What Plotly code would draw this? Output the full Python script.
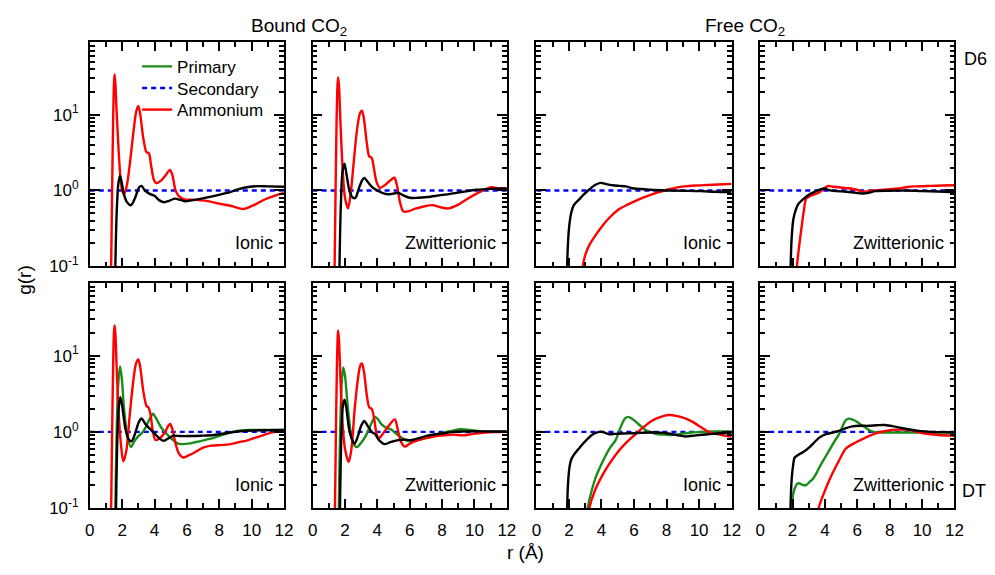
import math
import plotly.graph_objects as go

# ---------------- data (r in Angstrom, g(r)) ----------------
SECONDARY_R = [0, 12]
SECONDARY_G = [1, 1]

# Top row: D6
D6_BOUND_IONIC_AMMONIUM = [(1.25,0.01),(1.32,0.1),(1.38,1.0),(1.44,8),(1.49,25),(1.53,34),(1.58,26),(1.65,12),(1.75,4.5),(1.88,1.6),(2.0,1.0),(2.12,0.89),(2.3,1.2),(2.5,2.5),(2.7,6),(2.87,11),(3.0,13),(3.12,10),(3.3,5),(3.5,3.2),(3.65,3.1),(3.78,2.2),(3.95,1.4),(4.1,1.25),(4.4,1.35),(4.7,1.6),(4.95,1.87),(5.1,1.6),(5.3,1.0),(5.5,0.84),(5.8,0.77),(6.5,0.75),(7.2,0.73),(8.0,0.67),(8.8,0.62),(9.5,0.57),(10.2,0.65),(10.8,0.76),(11.4,0.85),(12,0.93)]
D6_BOUND_IONIC_TOTAL = [(1.52,0.01),(1.58,0.1),(1.66,0.5),(1.76,1.2),(1.86,1.55),(1.95,1.35),(2.1,0.9),(2.3,0.7),(2.55,0.64),(2.8,0.8),(3.05,1.1),(3.2,1.15),(3.4,1.0),(3.7,0.9),(4.0,0.85),(4.3,0.74),(4.6,0.7),(4.9,0.73),(5.25,0.78),(5.6,0.75),(5.9,0.72),(6.3,0.74),(6.9,0.78),(7.5,0.83),(8.1,0.89),(8.7,0.96),(9.2,1.04),(9.8,1.11),(10.4,1.14),(11.0,1.13),(12,1.12)]

D6_BOUND_ZWIT_AMMONIUM = [(1.3,0.01),(1.36,0.1),(1.42,1.0),(1.48,8),(1.54,25),(1.58,31),(1.63,24),(1.72,8),(1.85,2.0),(2.0,0.8),(2.19,0.58),(2.35,0.9),(2.55,2.5),(2.75,6.5),(2.93,10.5),(3.05,11.3),(3.18,8.5),(3.35,4.2),(3.5,2.8),(3.65,2.7),(3.78,2.0),(3.95,1.3),(4.16,1.08),(4.4,1.15),(4.7,1.3),(5.05,1.47),(5.2,1.2),(5.4,0.7),(5.6,0.53),(5.9,0.53),(6.3,0.57),(6.8,0.61),(7.4,0.64),(7.9,0.6),(8.4,0.58),(9.0,0.65),(9.5,0.76),(10.1,0.9),(10.6,1.02),(11.05,1.1),(11.5,1.07),(12,1.06)]
D6_BOUND_ZWIT_TOTAL = [(1.6,0.01),(1.66,0.1),(1.74,0.6),(1.85,1.8),(1.97,2.25),(2.1,1.6),(2.3,0.95),(2.5,0.8),(2.65,0.8),(2.85,1.05),(3.05,1.35),(3.2,1.46),(3.4,1.3),(3.7,1.1),(4.0,1.0),(4.3,0.93),(4.65,0.89),(5.0,0.91),(5.3,0.93),(5.6,0.86),(6.0,0.8),(6.5,0.8),(7.1,0.82),(7.8,0.86),(8.5,0.9),(9.3,0.96),(10.1,1.02),(11.0,1.05),(12,1.06)]

D6_FREE_IONIC_AMMONIUM = [(2.75,0.05),(2.85,0.1),(3.0,0.14),(3.25,0.19),(3.6,0.25),(4.05,0.34),(4.5,0.44),(5.05,0.56),(5.6,0.65),(6.1,0.73),(6.6,0.81),(7.1,0.89),(7.6,0.96),(8.1,1.03),(8.6,1.09),(9.1,1.13),(9.8,1.16),(10.5,1.18),(11.2,1.2),(12,1.22)]
D6_FREE_IONIC_TOTAL = [(1.84,0.01),(1.89,0.1),(1.95,0.22),(2.03,0.36),(2.15,0.52),(2.3,0.64),(2.6,0.75),(2.9,0.88),(3.25,1.03),(3.6,1.18),(3.95,1.26),(4.3,1.21),(4.7,1.17),(5.1,1.15),(5.5,1.13),(5.9,1.07),(6.3,1.05),(7.0,1.02),(8.1,1.0),(9.0,0.99),(10.1,0.98),(11.0,0.96),(12,0.95)]

D6_FREE_ZWIT_AMMONIUM = [(2.2,0.03),(2.27,0.1),(2.4,0.18),(2.54,0.31),(2.7,0.55),(2.84,0.78),(3.1,0.85),(3.55,0.92),(3.85,1.02),(4.16,1.14),(4.5,1.12),(4.87,1.1),(5.4,1.07),(5.9,1.03),(6.2,0.98),(6.5,0.96),(6.8,0.99),(7.1,1.0),(7.8,1.03),(8.5,1.06),(9.0,1.1),(9.5,1.13),(10.5,1.15),(11.3,1.16),(12,1.17)]
D6_FREE_ZWIT_TOTAL = [(1.84,0.01),(1.88,0.1),(1.95,0.25),(2.05,0.42),(2.2,0.56),(2.35,0.66),(2.7,0.78),(3.05,0.89),(3.5,0.99),(3.95,1.06),(4.3,1.0),(4.7,0.98),(5.3,0.96),(5.9,0.93),(6.3,0.91),(6.7,0.93),(7.1,0.98),(8.0,0.99),(9.1,1.0),(10.0,0.98),(11.0,0.97),(12,0.95)]

# Bottom row: DT
DT_BOUND_IONIC_AMMONIUM = [(1.25,0.01),(1.32,0.1),(1.38,1.0),(1.44,7),(1.49,20),(1.53,25),(1.58,20),(1.66,7),(1.78,1.8),(1.92,0.7),(2.07,0.41),(2.25,0.55),(2.45,1.5),(2.65,4),(2.85,7.8),(3.0,8.9),(3.12,7),(3.3,3.5),(3.5,2.2),(3.62,2.1),(3.75,1.7),(3.9,1.0),(4.06,0.78),(4.3,0.82),(4.6,0.95),(4.85,1.2),(4.97,1.27),(5.12,1.05),(5.3,0.7),(5.5,0.52),(5.75,0.46),(6.1,0.49),(6.5,0.54),(7.0,0.62),(7.5,0.66),(8.1,0.67),(8.7,0.69),(9.2,0.73),(9.8,0.78),(10.4,0.86),(11.0,0.95),(11.5,1.0),(12,1.01)]
DT_BOUND_IONIC_PRIMARY = [(1.52,0.01),(1.58,0.1),(1.66,1.0),(1.75,4),(1.87,7.2),(1.98,5),(2.1,2.2),(2.3,0.95),(2.54,0.63),(2.75,0.75),(3.0,0.88),(3.25,0.98),(3.5,1.2),(3.75,1.55),(3.9,1.73),(4.1,1.5),(4.4,1.15),(4.67,0.98),(4.95,0.85),(5.2,0.76),(5.45,0.7),(5.7,0.69),(6.1,0.7),(6.5,0.73),(7.1,0.78),(7.7,0.84),(8.4,0.94),(9.1,1.03),(9.8,1.06),(11,1.06),(12,1.06)]
DT_BOUND_IONIC_TOTAL = [(1.56,0.01),(1.62,0.1),(1.7,0.8),(1.8,2.2),(1.89,2.85),(2.0,2.2),(2.2,1.1),(2.4,0.8),(2.58,0.75),(2.8,0.95),(3.0,1.3),(3.19,1.5),(3.4,1.3),(3.7,1.1),(4.0,0.95),(4.3,0.82),(4.57,0.76),(4.85,0.82),(5.18,0.89),(5.6,0.88),(6.1,0.88),(6.9,0.89),(7.7,0.91),(8.4,0.96),(9.1,1.01),(10.0,1.04),(11,1.05),(12,1.06)]

DT_BOUND_ZWIT_AMMONIUM = [(1.3,0.01),(1.38,0.1),(1.44,1.0),(1.5,7),(1.55,18),(1.58,21.5),(1.63,16),(1.72,5),(1.85,1.3),(2.0,0.6),(2.23,0.4),(2.4,0.6),(2.6,2.0),(2.8,5),(2.95,7.5),(3.05,7.9),(3.18,6),(3.35,3.0),(3.5,2.1),(3.65,2.0),(3.8,1.5),(3.95,0.95),(4.1,0.82),(4.35,0.95),(4.7,1.2),(5.08,1.46),(5.25,1.1),(5.45,0.75),(5.69,0.64),(6.0,0.7),(6.4,0.76),(6.9,0.82),(7.5,0.87),(8.1,0.9),(8.7,0.92),(9.3,0.9),(9.9,0.94),(10.5,0.97),(11.2,0.99),(12,1.0)]
DT_BOUND_ZWIT_PRIMARY = [(1.56,0.01),(1.62,0.1),(1.7,1.0),(1.8,4.5),(1.89,7.0),(2.0,5.5),(2.15,2.4),(2.35,1.0),(2.55,0.68),(2.74,0.63),(3.0,0.72),(3.3,0.9),(3.6,1.25),(3.86,1.57),(4.05,1.45),(4.26,1.25),(4.5,1.15),(4.87,1.07),(5.15,0.95),(5.48,0.84),(5.8,0.77),(6.1,0.76),(6.6,0.79),(7.1,0.84),(7.6,0.91),(8.1,0.98),(8.6,1.03),(9.14,1.08),(9.7,1.06),(10.56,1.01),(11.3,1.0),(12,1.0)]
DT_BOUND_ZWIT_TOTAL = [(1.63,0.01),(1.69,0.1),(1.77,0.8),(1.87,2.2),(1.97,2.65),(2.08,2.1),(2.25,1.1),(2.45,0.78),(2.6,0.7),(2.8,0.88),(3.0,1.2),(3.19,1.39),(3.4,1.2),(3.65,1.0),(3.86,0.93),(4.1,0.78),(4.47,0.69),(4.85,0.74),(5.28,0.78),(5.7,0.79),(6.09,0.78),(6.6,0.83),(7.1,0.89),(7.6,0.93),(8.1,0.96),(8.6,0.99),(9.14,1.01),(10,1.02),(11,1.01),(12,1.01)]

DT_FREE_IONIC_AMMONIUM = [(3.15,0.07),(3.25,0.1),(3.6,0.17),(4.06,0.27),(4.55,0.4),(5.08,0.57),(5.6,0.75),(6.09,0.93),(6.6,1.16),(7.1,1.4),(7.6,1.56),(8.12,1.66),(8.6,1.62),(9.14,1.5),(9.6,1.35),(10.15,1.14),(10.6,1.0),(10.96,0.95),(11.5,0.9),(12,0.86)]
DT_FREE_IONIC_PRIMARY = [(3.05,0.07),(3.15,0.1),(3.4,0.17),(3.65,0.255),(3.95,0.36),(4.26,0.49),(4.55,0.63),(4.87,0.78),(5.1,1.05),(5.28,1.3),(5.45,1.5),(5.64,1.57),(5.85,1.5),(6.09,1.37),(6.4,1.2),(6.7,1.06),(7.1,0.98),(7.5,0.93),(7.9,0.92),(8.3,0.91),(8.9,0.94),(9.54,0.98),(10.3,1.0),(10.96,1.01),(12,1.01)]
DT_FREE_IONIC_TOTAL = [(1.85,0.01),(1.89,0.1),(1.95,0.22),(2.03,0.34),(2.15,0.44),(2.33,0.51),(2.6,0.6),(2.84,0.69),(3.1,0.79),(3.35,0.89),(3.6,0.96),(3.86,1.0),(4.1,0.99),(4.47,0.93),(4.8,0.94),(5.28,0.95),(6.0,0.96),(6.9,0.98),(7.5,0.98),(8.12,0.95),(8.7,0.9),(9.14,0.87),(9.8,0.9),(10.56,0.93),(11.3,0.96),(12,0.98)]

DT_FREE_ZWIT_AMMONIUM = [(3.5,0.07),(3.61,0.1),(3.9,0.15),(4.26,0.23),(4.55,0.31),(4.87,0.42),(5.28,0.6),(5.7,0.69),(6.09,0.76),(6.6,0.86),(7.1,0.95),(7.6,1.01),(8.12,1.06),(8.6,1.07),(9.14,1.06),(9.6,1.01),(10.15,0.95),(11,0.91),(12,0.89)]
DT_FREE_ZWIT_PRIMARY = [(1.88,0.05),(1.93,0.1),(2.03,0.15),(2.13,0.18),(2.3,0.21),(2.44,0.21),(2.65,0.2),(2.84,0.2),(3.05,0.22),(3.25,0.24),(3.45,0.28),(3.65,0.34),(3.95,0.44),(4.26,0.57),(4.55,0.73),(4.87,0.93),(5.1,1.2),(5.28,1.42),(5.48,1.49),(5.7,1.45),(5.9,1.39),(6.2,1.25),(6.5,1.14),(6.75,1.05),(7.0,1.0),(7.5,0.98),(8.1,0.98),(9.0,0.98),(10.15,0.98),(11,0.98),(12,0.98)]
DT_FREE_ZWIT_TOTAL = [(1.84,0.01),(1.87,0.1),(1.95,0.25),(2.03,0.36),(2.13,0.46),(2.44,0.51),(2.75,0.56),(3.05,0.63),(3.35,0.73),(3.65,0.84),(4.06,0.93),(4.5,0.98),(4.87,1.03),(5.3,1.12),(5.69,1.18),(6.2,1.2),(6.7,1.2),(7.2,1.22),(7.7,1.23),(8.4,1.16),(9.14,1.08),(9.8,1.03),(10.56,1.0),(11.3,0.99),(12,0.98)]

X_TICKS = [0, 2, 4, 6, 8, 10, 12]
Y_TICKVALS = [0.1, 1, 10]
Y_TICKTEXT = ["10<sup>-1</sup>", "10<sup>0</sup>", "10<sup>1</sup>"]
PANEL_LABELS = ["Ionic", "Zwitterionic", "Ionic", "Zwitterionic"]

PANELS = [
    {"primary": None, "ammonium": D6_BOUND_IONIC_AMMONIUM, "total": D6_BOUND_IONIC_TOTAL},
    {"primary": None, "ammonium": D6_BOUND_ZWIT_AMMONIUM, "total": D6_BOUND_ZWIT_TOTAL},
    {"primary": None, "ammonium": D6_FREE_IONIC_AMMONIUM, "total": D6_FREE_IONIC_TOTAL},
    {"primary": None, "ammonium": D6_FREE_ZWIT_AMMONIUM, "total": D6_FREE_ZWIT_TOTAL},
    {"primary": DT_BOUND_IONIC_PRIMARY, "ammonium": DT_BOUND_IONIC_AMMONIUM, "total": DT_BOUND_IONIC_TOTAL},
    {"primary": DT_BOUND_ZWIT_PRIMARY, "ammonium": DT_BOUND_ZWIT_AMMONIUM, "total": DT_BOUND_ZWIT_TOTAL},
    {"primary": DT_FREE_IONIC_PRIMARY, "ammonium": DT_FREE_IONIC_AMMONIUM, "total": DT_FREE_IONIC_TOTAL},
    {"primary": DT_FREE_ZWIT_PRIMARY, "ammonium": DT_FREE_ZWIT_AMMONIUM, "total": DT_FREE_ZWIT_TOTAL},
]

# ---------------- layout geometry ----------------
W, H = 995, 575
COL_PX = [(86, 283), (312, 509), (539, 737), (766, 963)]
ROW_PX = [(43, 271), (288, 517)]

FONT = "Arial, Liberation Sans, sans-serif"
GREEN = "#1a8c1a"
RED = "#ff0000"
BLUE = "#0000ff"
BLACK = "#000000"
LW = 2.4

fig = go.Figure()
layout = {}
legend_done = {"primary": False, "ammonium": False, "secondary": False}

for i, panel in enumerate(PANELS):
    row, col = divmod(i, 4)
    n = i + 1
    xa = "x" if n == 1 else f"x{n}"
    ya = "y" if n == 1 else f"y{n}"
    xkey = "xaxis" if n == 1 else f"xaxis{n}"
    ykey = "yaxis" if n == 1 else f"yaxis{n}"
    x0, x1 = COL_PX[col]
    y0, y1 = ROW_PX[row]
    layout[xkey] = dict(
        domain=[x0 / W, x1 / W], anchor=ya, range=[0, 12],
        tickmode="array", tickvals=X_TICKS,
        showticklabels=(row == 1),
        ticks="inside", ticklen=9, tickwidth=1.5, tickcolor=BLACK,
        minor=dict(ticks="inside", ticklen=5, tickwidth=1.5, tickcolor=BLACK, dtick=1, tick0=0),
        showline=True, linecolor=BLACK, linewidth=1.5, mirror="allticks",
        showgrid=False, zeroline=False,
        tickfont=dict(family=FONT, size=17, color=BLACK),
        ticklabelstandoff=6,
    )
    layout[ykey] = dict(
        domain=[1 - y1 / H, 1 - y0 / H], anchor=xa, type="log",
        range=[-1, math.log10(90)],
        tickmode="array", tickvals=Y_TICKVALS, ticktext=Y_TICKTEXT,
        showticklabels=(col == 0),
        ticks="inside", ticklen=10, tickwidth=1.5, tickcolor=BLACK,
        minor=dict(ticks="inside", ticklen=5, tickwidth=1.5, tickcolor=BLACK, dtick="D1"),
        showline=True, linecolor=BLACK, linewidth=1.5, mirror="allticks",
        showgrid=False, zeroline=False,
        tickfont=dict(family=FONT, size=17, color=BLACK),
        ticklabelstandoff=6,
    )

    # Secondary (blue dashed)
    fig.add_trace(go.Scatter(
        x=SECONDARY_R, y=SECONDARY_G, xaxis=xa, yaxis=ya, mode="lines",
        line=dict(color=BLUE, width=LW, dash="5px,4px"),
        name="Secondary", legend="legend2",
        showlegend=not legend_done["secondary"], hoverinfo="skip"))
    legend_done["secondary"] = True

    if panel["primary"] is not None:
        pts = panel["primary"]
        fig.add_trace(go.Scatter(
            x=[p[0] for p in pts], y=[p[1] for p in pts], xaxis=xa, yaxis=ya,
            mode="lines", line=dict(color=GREEN, width=LW, shape="spline", smoothing=0.8),
            name="Primary", legend="legend",
            showlegend=not legend_done["primary"]))
        legend_done["primary"] = True

    pts = panel["ammonium"]
    fig.add_trace(go.Scatter(
        x=[p[0] for p in pts], y=[p[1] for p in pts], xaxis=xa, yaxis=ya,
        mode="lines", line=dict(color=RED, width=LW, shape="spline", smoothing=0.8),
        name="Ammonium", legend="legend3",
        showlegend=not legend_done["ammonium"]))
    legend_done["ammonium"] = True

    pts = panel["total"]
    fig.add_trace(go.Scatter(
        x=[p[0] for p in pts], y=[p[1] for p in pts], xaxis=xa, yaxis=ya,
        mode="lines", line=dict(color=BLACK, width=LW, shape="spline", smoothing=0.8),
        name="Total", showlegend=False))

annotations = []
for i in range(8):
    row, col = divmod(i, 4)
    n = i + 1
    xa = "x" if n == 1 else f"x{n}"
    ya = "y" if n == 1 else f"y{n}"
    annotations.append(dict(
        text=PANEL_LABELS[col], xref=xa, yref=ya, x=11.45, y=math.log10(0.2),
        xanchor="right", yanchor="middle", showarrow=False,
        font=dict(family=FONT, size=18, color=BLACK)))

def paper(px, py):
    return px / W, 1 - py / H

for txt, px, py, xanc, sz, ang in [
    ("Bound CO<sub>2</sub>", 298, 27, "center", 19, 0),
    ("Free CO<sub>2</sub>", 751, 27, "center", 19, 0),
    ("D6", 971, 60, "left", 18, 0),
    ("DT", 969, 500, "left", 18, 0),
    ("r (Å)", 528, 562, "center", 19, 0),
    ("g(r)", 19, 285, "center", 19, -90),
]:
    x, y = paper(px, py)
    annotations.append(dict(text=txt, xref="paper", yref="paper", x=x, y=y,
                            xanchor=xanc, yanchor="middle", showarrow=False,
                            textangle=ang, font=dict(family=FONT, size=sz, color=BLACK)))

def legend_at(py):
    x, y = paper(134, py)
    return dict(x=x, y=y, xanchor="left", yanchor="middle",
                bgcolor="rgba(0,0,0,0)", font=dict(family=FONT, size=17, color=BLACK),
                itemwidth=30)

fig.update_layout(
    width=W, height=H, margin=dict(l=0, r=0, t=0, b=0),
    paper_bgcolor="white", plot_bgcolor="white",
    font=dict(family=FONT, color=BLACK),
    showlegend=True,
    legend=legend_at(68),
    legend2=legend_at(90),
    legend3=legend_at(112),
    annotations=annotations,
    **layout,
)

fig.write_html("out.html")
